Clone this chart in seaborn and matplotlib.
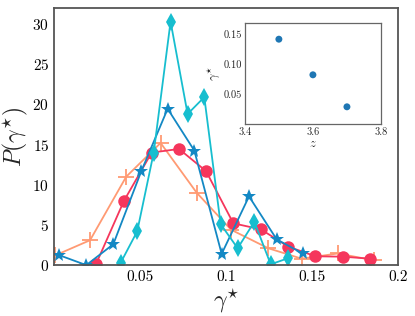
import numpy as np
import seaborn as sns
import matplotlib.pyplot as plt

# data
x_salmon = [0.0006, 0.021, 0.042, 0.062, 0.083, 0.103, 0.1246, 0.144, 0.165, 0.186]
y_salmon = [1.2, 3.1, 11.0, 15.2, 9.0, 4.4, 2.1, 0.8, 1.45, 0.6]

x_red = [0.0244, 0.0407, 0.0568, 0.0727, 0.0884, 0.1043, 0.1203, 0.1362, 0.152, 0.168, 0.184]
y_red = [0.1, 8.0, 14.0, 14.45, 11.7, 5.2, 4.45, 2.3, 1.1, 1.05, 0.8]

x_star = [0.0029, 0.0188, 0.0345, 0.0508, 0.0661, 0.0816, 0.0975, 0.1134, 0.1295, 0.1446]
y_star = [1.25, 0.0, 2.6, 11.7, 19.45, 14.25, 1.4, 8.55, 3.2, 1.45]

x_diam = [0.0388, 0.0484, 0.058, 0.0678, 0.0777, 0.0874, 0.0969, 0.1068, 0.1165, 0.126, 0.136]
y_diam = [0.3, 4.2, 14.0, 30.3, 18.8, 20.9, 5.1, 2.1, 5.4, 0.1, 0.85]

z_inset = [3.5, 3.6, 3.7]
gamma_inset = [0.141, 0.082, 0.029]

sns.set_style('white')
plt.rcParams['font.family'] = ['cmr10', 'DejaVu Serif']
plt.rcParams['mathtext.fontset'] = 'cm'
plt.rcParams['axes.formatter.use_mathtext'] = True

fig = plt.figure(figsize=(4.15, 3.16), dpi=100)
ax = fig.add_axes([0.130, 0.161, 0.829, 0.814])

sns.lineplot(x=x_salmon, y=y_salmon, sort=False, ax=ax, color='#ff9a73', lw=1.3,
             marker='+', markersize=11, markeredgewidth=1.3, markeredgecolor='#ff9a73')
sns.lineplot(x=x_red, y=y_red, sort=False, ax=ax, color='#f5365c', lw=1.3,
             marker='o', markersize=9, markeredgewidth=0)
sns.lineplot(x=x_star, y=y_star, sort=False, ax=ax, color='#1388c4', lw=1.3,
             marker='*', markersize=10, markeredgewidth=0)
sns.lineplot(x=x_diam, y=y_diam, sort=False, ax=ax, color='#17becf', lw=1.3,
             marker='d', markersize=9, markeredgewidth=0)

ax.set_xlim(0, 0.2)
ax.set_ylim(0, 32)
ax.set_xticks([0.05, 0.1, 0.15, 0.2])
ax.set_xticklabels(['0.05', '0.1', '0.15', '0.2'])
ax.set_yticks([0, 5, 10, 15, 20, 25, 30])
ax.tick_params(direction='in', length=5, width=1, labelsize=11, colors='#333333')
ax.tick_params(labelcolor='black')
for s in ax.spines.values():
    s.set_color('#555555')
    s.set_linewidth(1.3)
ax.set_xlabel(r'$\gamma^{\star}$', fontsize=17, labelpad=2)
ax.set_ylabel(r'$P(\gamma^{\star})$', fontsize=17, labelpad=2)

ins = fig.add_axes([0.590, 0.6066, 0.328, 0.320])
sns.scatterplot(x=z_inset, y=gamma_inset, ax=ins, color='#1f77b4', s=25, edgecolor='none')
ins.set_xlim(3.4, 3.8)
ins.set_ylim(0, 0.1675)
ins.set_xticks([3.4, 3.6, 3.8])
ins.set_xticklabels(['3.4', '3.6', '3.8'])
ins.set_yticks([0.05, 0.10, 0.15])
ins.set_yticklabels(['0.05', '0.10', '0.15'])
ins.tick_params(direction='in', length=2, width=0.8, labelsize=7.5, pad=2)
for s in ins.spines.values():
    s.set_color('#666666')
    s.set_linewidth(0.9)
ins.set_xlabel(r'$z$', fontsize=9, labelpad=1)
ins.set_ylabel(r'$\gamma^{\star}$', fontsize=9, labelpad=1)

fig.savefig('out.png', dpi=100)
